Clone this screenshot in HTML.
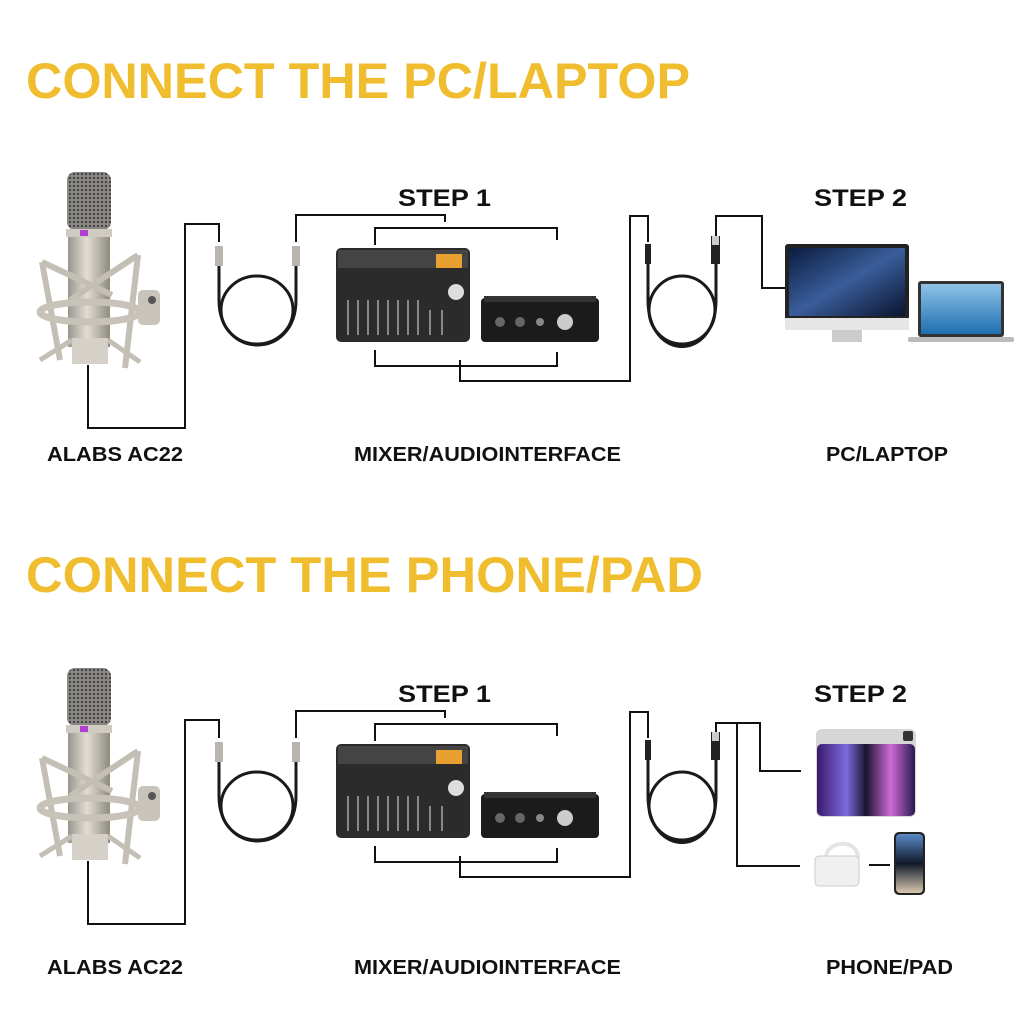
<!DOCTYPE html>
<html><head><meta charset="utf-8"><style>
body{margin:0;background:#fff;width:1024px;height:1024px;overflow:hidden;font-family:"Liberation Sans",Arial,sans-serif}
svg{position:absolute;left:0;top:0}
</style></head><body>
<svg width="1024" height="1024" viewBox="0 0 1024 1024" font-family="Liberation Sans, Arial, sans-serif">
<defs>
<linearGradient id="silver" x1="0" x2="1"><stop offset="0" stop-color="#9a958c"/><stop offset=".45" stop-color="#e2ded6"/><stop offset="1" stop-color="#8f8a80"/></linearGradient>
<pattern id="mesh" width="4" height="4" patternUnits="userSpaceOnUse"><rect width="4" height="4" fill="#8a8884"/><circle cx="2" cy="2" r="1.1" fill="#3c3b3a"/></pattern>
<linearGradient id="space" x1="0" y1="0" x2="1" y2="1"><stop offset="0" stop-color="#0b1c3e"/><stop offset=".5" stop-color="#3a5d9a"/><stop offset="1" stop-color="#0a1430"/></linearGradient>
<linearGradient id="sea" x1="0" y1="0" x2="0" y2="1"><stop offset="0" stop-color="#8fc3e8"/><stop offset="1" stop-color="#1d6fb0"/></linearGradient>
<linearGradient id="pad" x1="0" x2="1"><stop offset="0" stop-color="#3a1a6a"/><stop offset=".3" stop-color="#7e6ae0"/><stop offset=".5" stop-color="#1a1430"/><stop offset=".75" stop-color="#d06ad8"/><stop offset="1" stop-color="#2a1a50"/></linearGradient>
<linearGradient id="phone" x1="0" y1="0" x2="0" y2="1"><stop offset="0" stop-color="#5a8ac8"/><stop offset=".5" stop-color="#101828"/><stop offset="1" stop-color="#d8c8b0"/></linearGradient>
<g id="common">
  <rect x="67" y="172" width="44" height="58" rx="8" fill="url(#mesh)"/>
  <rect x="66" y="229" width="46" height="8" fill="#cfcac2"/>
  <rect x="80" y="230" width="8" height="6" fill="#b040d0"/>
  <rect x="68" y="237" width="42" height="110" fill="url(#silver)"/>
  <path d="M42 262 L60 360 M138 255 L125 368 M42 262 L112 295 M138 255 L70 300" stroke="#c4bfb5" stroke-width="6" fill="none"/>
  <ellipse cx="90" cy="312" rx="50" ry="10" fill="none" stroke="#c8c3b9" stroke-width="7"/>
  <rect x="138" y="290" width="22" height="35" rx="5" fill="#c9c4ba"/>
  <circle cx="152" cy="300" r="4" fill="#555"/>
  <rect x="72" y="338" width="36" height="26" fill="#d5d0c8"/>
  <path d="M40 360 L72 340 M140 362 L108 340" stroke="#c4bfb5" stroke-width="5"/>
  <g fill="none" stroke="#111" stroke-width="2">
    <path d="M88 365 V428 H185 V224 H219 V242"/>
    <path d="M296 242 V215 H445 V222"/>
    <path d="M375 245 V228 H557 V240"/>
    <path d="M375 350 V366 H557 V352"/>
    <path d="M460 360 V381 H630 V216 H648 V242"/>
  </g>
  <rect x="215" y="246" width="8" height="20" fill="#b8b4ae"/>
  <rect x="292" y="246" width="8" height="20" fill="#b8b4ae"/>
  <path d="M219 266 V300 C219 360 296 360 296 300 V266" fill="none" stroke="#1a1a1a" stroke-width="3"/>
  <ellipse cx="257" cy="310" rx="36" ry="34" fill="none" stroke="#1a1a1a" stroke-width="3"/>
  <rect x="336" y="248" width="134" height="94" rx="5" fill="#2b2b2b"/>
  <rect x="338" y="250" width="130" height="18" fill="#444"/>
  <rect x="436" y="254" width="26" height="14" fill="#e8a030"/>
  <circle cx="456" cy="292" r="8" fill="#ddd"/>
  <g stroke="#888" stroke-width="2"><path d="M348 300V335M358 300V335M368 300V335M378 300V335M388 300V335M398 300V335M408 300V335M418 300V335M430 310V335M442 310V335"/></g>
  <rect x="481" y="298" width="118" height="44" rx="4" fill="#1b1b1b"/>
  <rect x="484" y="296" width="112" height="6" fill="#333"/>
  <circle cx="565" cy="322" r="8" fill="#ccc"/>
  <circle cx="500" cy="322" r="5" fill="#666"/><circle cx="520" cy="322" r="5" fill="#666"/><circle cx="540" cy="322" r="4" fill="#888"/>
  <rect x="645" y="244" width="6" height="20" fill="#222"/>
  <rect x="711" y="236" width="9" height="28" fill="#222"/>
  <rect x="712" y="236" width="7" height="9" fill="#ccc"/>
  <path d="M648 264 V300 C648 362 716 362 716 300 V264" fill="none" stroke="#1a1a1a" stroke-width="3"/>
  <ellipse cx="682" cy="310" rx="33" ry="34" fill="none" stroke="#1a1a1a" stroke-width="3"/>
  <text x="398" y="206" font-size="24" font-weight="bold" fill="#111" textLength="93" lengthAdjust="spacingAndGlyphs">STEP 1</text>
  <text x="814" y="206" font-size="24" font-weight="bold" fill="#111" textLength="93" lengthAdjust="spacingAndGlyphs">STEP 2</text>
</g>
</defs>
<text x="26" y="98" font-size="50" font-weight="bold" fill="#f0bd2e" textLength="664" lengthAdjust="spacingAndGlyphs">CONNECT THE PC/LAPTOP</text>
<text x="26" y="592" font-size="50" font-weight="bold" fill="#f0bd2e" textLength="677" lengthAdjust="spacingAndGlyphs">CONNECT THE PHONE/PAD</text>
<use href="#common"/>
<use href="#common" transform="translate(0,496)"/>
<g font-size="20" font-weight="bold" fill="#111">
<text x="47" y="461" textLength="136" lengthAdjust="spacingAndGlyphs">ALABS AC22</text>
<text x="354" y="461" textLength="267" lengthAdjust="spacingAndGlyphs">MIXER/AUDIOINTERFACE</text>
<text x="826" y="461" textLength="122" lengthAdjust="spacingAndGlyphs">PC/LAPTOP</text>
<text x="47" y="974" textLength="136" lengthAdjust="spacingAndGlyphs">ALABS AC22</text>
<text x="354" y="974" textLength="267" lengthAdjust="spacingAndGlyphs">MIXER/AUDIOINTERFACE</text>
<text x="826" y="974" textLength="127" lengthAdjust="spacingAndGlyphs">PHONE/PAD</text>
</g>
<path d="M716 236 V216 H762 V288 H785" fill="none" stroke="#111" stroke-width="2"/>
<rect x="785" y="244" width="124" height="80" rx="3" fill="#222"/>
<rect x="789" y="248" width="116" height="68" fill="url(#space)"/>
<rect x="785" y="318" width="124" height="12" fill="#e6e6e6"/>
<rect x="832" y="330" width="30" height="12" fill="#ccc"/>
<rect x="918" y="281" width="86" height="56" rx="3" fill="#333"/>
<rect x="921" y="284" width="80" height="50" fill="url(#sea)"/>
<rect x="908" y="337" width="106" height="5" rx="2" fill="#bbb"/>
<g fill="none" stroke="#111" stroke-width="2">
<path d="M716 732 V723 H760 V771 H801"/>
<path d="M737 723 V866 H800"/>
<path d="M869 865 H890"/>
</g>
<rect x="816" y="729" width="100" height="88" rx="6" fill="#d6d6d6"/>
<rect x="817" y="744" width="98" height="72" rx="5" fill="url(#pad)"/>
<rect x="903" y="731" width="10" height="10" rx="2" fill="#333"/>
<path d="M826 858 C826 840 858 838 858 858" fill="none" stroke="#e4e4e4" stroke-width="4"/>
<rect x="815" y="856" width="44" height="30" rx="4" fill="#f0f0f0" stroke="#ccc"/>
<rect x="894" y="832" width="31" height="63" rx="5" fill="#222"/>
<rect x="896" y="834" width="27" height="59" rx="4" fill="url(#phone)"/>
</svg>
</body></html>
